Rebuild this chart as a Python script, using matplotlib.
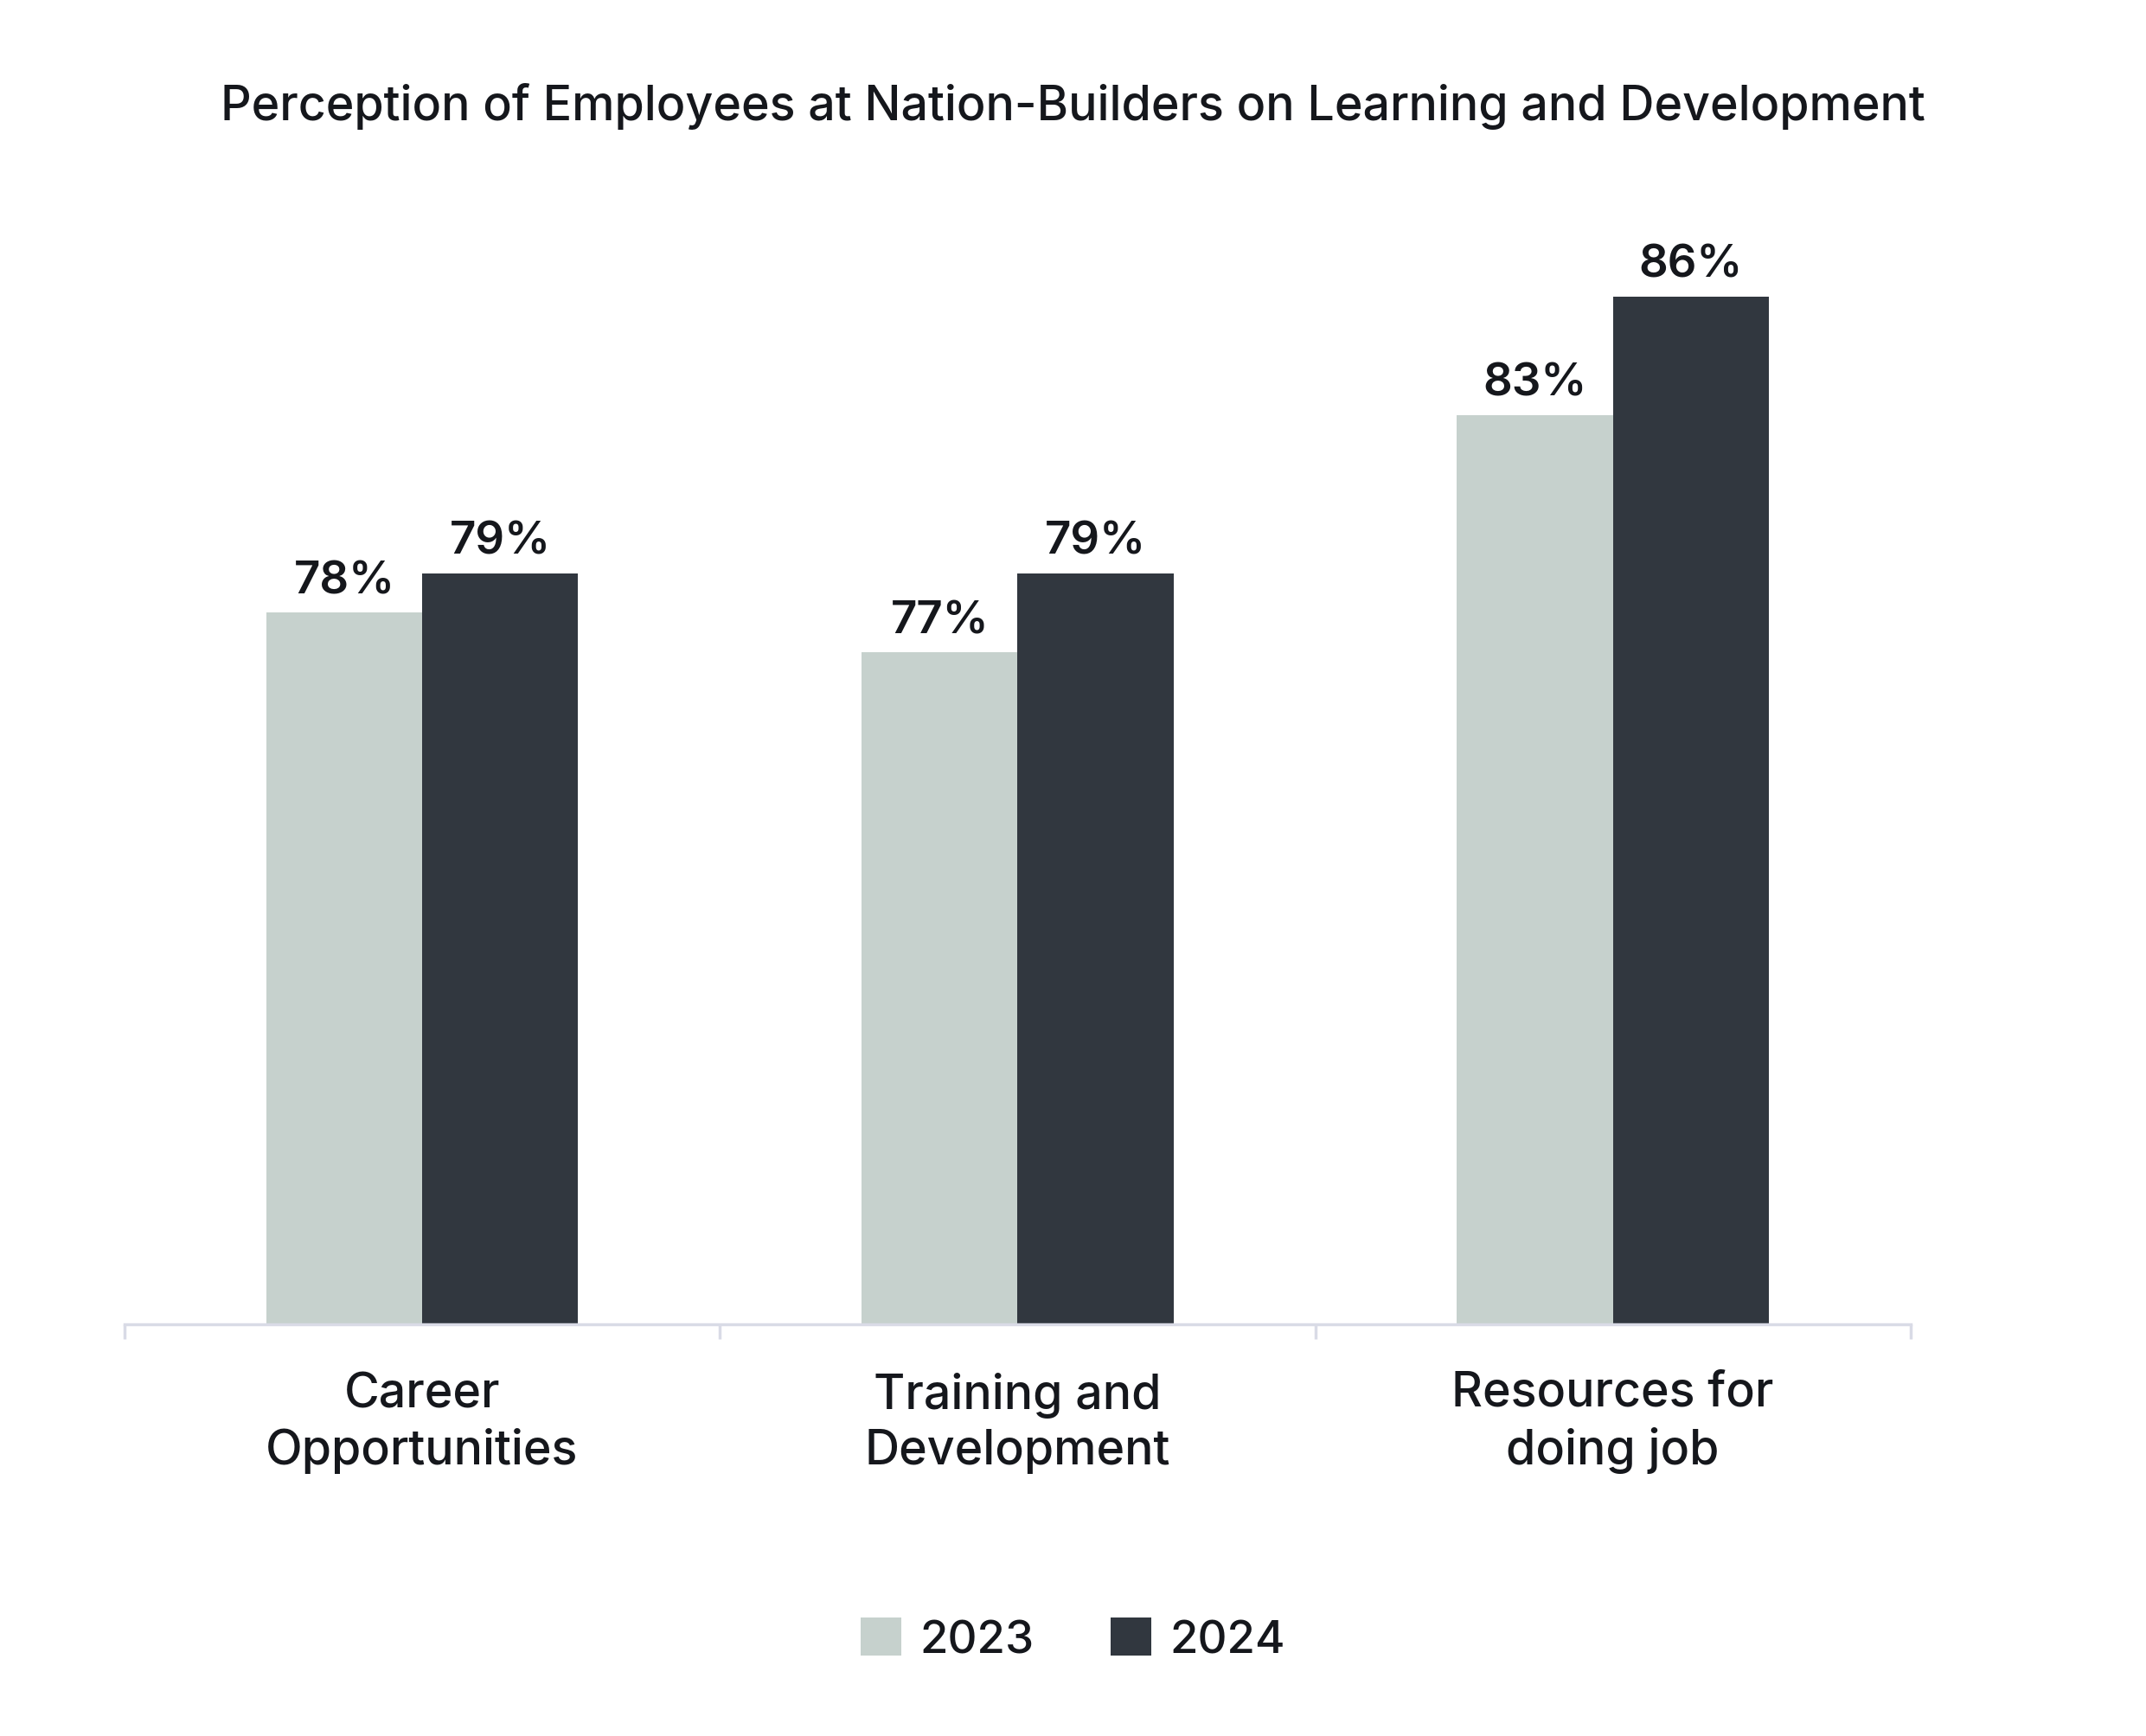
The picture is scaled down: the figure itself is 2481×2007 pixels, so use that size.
import matplotlib
matplotlib.use("Agg")
import matplotlib.pyplot as plt
import numpy as np

plt.rcParams['font.family'] = ['Inter', 'DejaVu Sans']

categories = ["Career\nOpportunities", "Training and\nDevelopment", "Resources for\ndoing job"]
years = ["2023", "2024"]
values_2023 = [78, 77, 83]
values_2024 = [79, 79, 86]
colors = ["#c6d1cd", "#31373f"]
text_color = "#15171c"
axis_color = "#d9dbe6"

fig = plt.figure(figsize=(24.81, 20.08), dpi=100)
ax = fig.add_axes([0.058, 0.2371, 0.8323, 0.6827])

x = np.arange(len(categories))
w = 0.262
bars1 = ax.bar(x - w / 2, values_2023, w, color=colors[0], label=years[0], zorder=2)
bars2 = ax.bar(x + w / 2, values_2024, w, color=colors[1], label=years[1], zorder=2)

# value labels above each bar
for bars in (bars1, bars2):
    for b in bars:
        ax.annotate(f"{b.get_height():.0f}%", (b.get_x() + b.get_width() / 2, b.get_height()),
                    xytext=(0, 16.5), textcoords="offset points", ha="center", va="baseline",
                    fontsize=38, fontweight="semibold", color=text_color)

ax.set_xlim(-0.5, len(categories) - 0.5)
ax.set_ylim(60, 90)

for s in ["top", "right", "left"]:
    ax.spines[s].set_visible(False)
ax.spines["bottom"].set_color(axis_color)
ax.spines["bottom"].set_linewidth(2.5)
ax.set_yticks([])

# ticks at category boundaries, labels at centers
ax.set_xticks(np.arange(len(categories) + 1) - 0.5, minor=True)
ax.tick_params(axis="x", which="minor", length=12, width=2.5, color=axis_color)
ax.set_xticks(x)
ax.set_xticklabels([])
ax.tick_params(axis="x", which="major", length=0)

for i, c in enumerate(categories):
    ax.text(i, -0.1174, c, transform=ax.get_xaxis_transform(), ha="center", va="baseline",
            fontsize=40, fontweight="medium", color=text_color, linespacing=1.3)

fig.text(0.5, 0.9308, "Perception of Employees at Nation-Builders on Learning and Development",
         ha="center", va="baseline", fontsize=40, fontweight="medium", color=text_color)

leg = fig.legend(handles=[bars1, bars2], labels=years, loc="center", bbox_to_anchor=(0.5, 0.0553),
                 ncol=2, frameon=False, fontsize=38, handlelength=0.89, handleheight=0.89,
                 handletextpad=0.4, columnspacing=1.69, borderaxespad=0)
for t in leg.get_texts():
    t.set_color(text_color)
    t.set_fontweight("medium")

fig.savefig("out.png", dpi=100, facecolor="white")
